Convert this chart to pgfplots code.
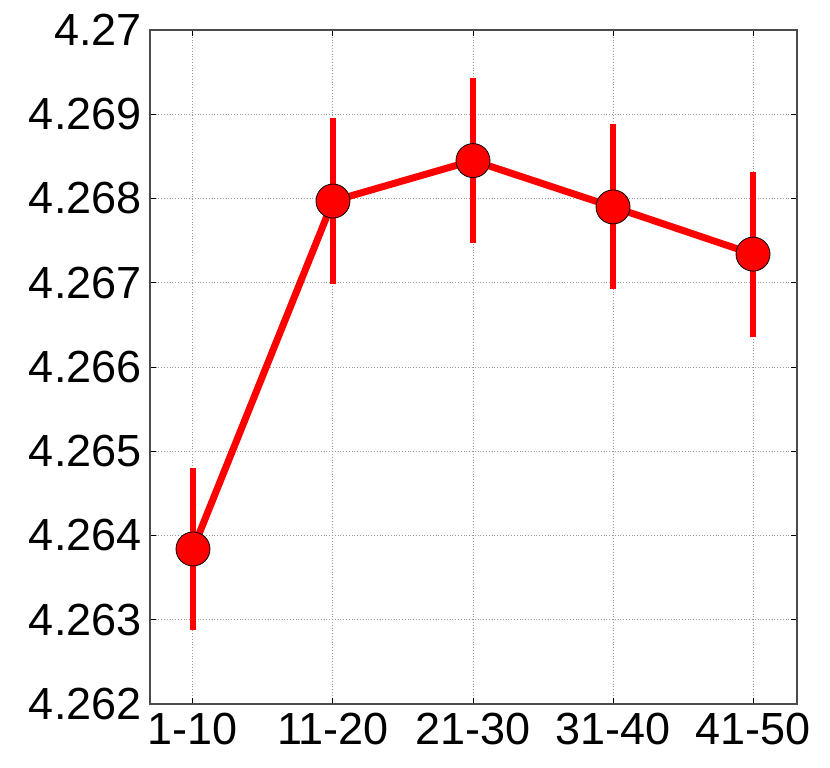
\documentclass[border=0pt]{standalone}
\usepackage{fontspec}
\setmainfont{Liberation Sans}
\usepackage{pgfplots}
\pgfplotsset{compat=1.18}

\begin{document}
\begin{tikzpicture}
\begin{axis}[
  scale only axis,
  width=323.5pt,
  height=337pt,
  xmin=-0.307, xmax=4.314,
  ymin=4.262, ymax=4.27,
  xtick={0,1,2,3,4},
  xticklabels={1-10,11-20,21-30,31-40,41-50},
  ytick={4.262,4.263,4.264,4.265,4.266,4.267,4.268,4.269,4.27},
  yticklabels={4.262,4.263,4.264,4.265,4.266,4.267,4.268,4.269,4.27},
  scaled y ticks=false,
  font=\fontsize{22.5}{26}\selectfont,
  tick label style={font=\fontsize{22.5}{26}\selectfont},
  yticklabel style={inner sep=0pt, xshift=-4pt},
  xticklabel style={inner sep=0pt, yshift=-4.5pt},
  grid=major,
  grid style={densely dotted, gray!80, line width=0.5pt},
  tick align=inside,
  major tick length=3pt,
  tick style={black, line width=0.5pt},
  axis line style={black!70, line width=0.6pt},
  clip=false,
]
\addplot[red, line width=3.5pt, mark=*, mark size=8.5pt,
  mark options={fill=red, draw=black, line width=0.4pt},
  error bars/.cd, y dir=both, y explicit,
  error mark=none,
  error bar style={red, line width=3.3pt}]
coordinates {
  (0, 4.26384) +- (0, 0.00096)
  (1, 4.26797) +- (0, 0.00098)
  (2, 4.26845) +- (0, 0.00098)
  (3, 4.26790) +- (0, 0.00098)
  (4, 4.26734) +- (0, 0.00098)
};
\end{axis}
\pgfresetboundingbox
\path (current axis.south west) ++(-75pt,-31.5pt) rectangle ++(415pt,383.5pt);
\end{tikzpicture}
\end{document}
